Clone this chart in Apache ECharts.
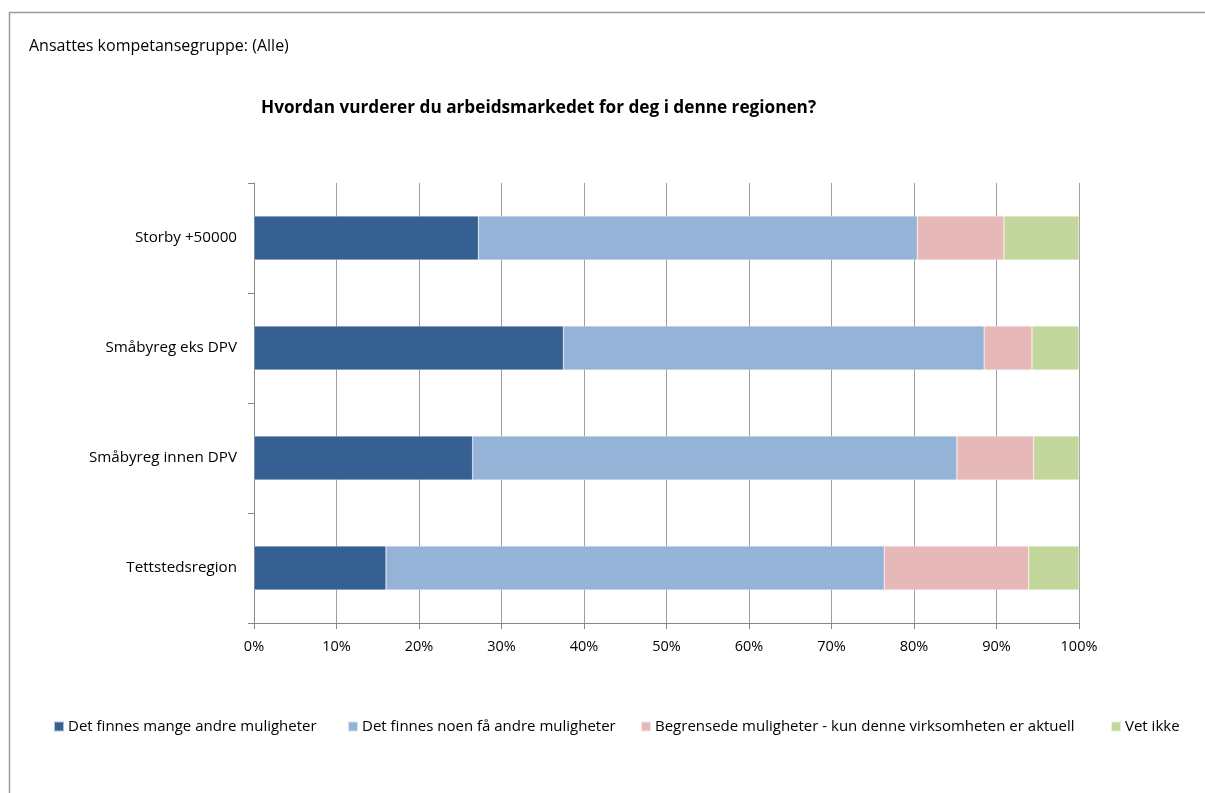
<!DOCTYPE html>
<html>
<head>
<meta charset="utf-8">
<script src="https://cdn.jsdelivr.net/npm/echarts@6/dist/echarts.min.js"></script>
<style>
  html, body { margin: 0; padding: 0; background: #fff; }
  #chart { width: 1205px; height: 793px; }
</style>
</head>
<body>
<div id="chart"></div>
<script>
// Regions, top to bottom
const categories = ['Storby +50000', 'Småbyreg eks DPV', 'Småbyreg innen DPV', 'Tettstedsregion'];

// Share of respondents (%) per answer
const mangeMuligheter = [27.2, 37.5, 26.5, 16.0];
const faaMuligheter   = [53.2, 51.0, 58.7, 60.4];
const begrensede      = [10.5,  5.8,  9.3, 17.5];
const vetIkke         = [ 9.1,  5.7,  5.5,  6.1];

const seriesNames = [
  'Det finnes mange andre muligheter',
  'Det finnes noen få andre muligheter',
  'Begrensede muligheter - kun denne virksomheten er aktuell',
  'Vet ikke'
];
const seriesData = [mangeMuligheter, faaMuligheter, begrensede, vetIkke];
const colors = ['#376092', '#95b3d7', '#e6b9b8', '#c3d69b'];

const FONT = 'Open Sans';
const chart = echarts.init(document.getElementById('chart'), null, { renderer: 'canvas' });

const legendLefts = [48, 342, 635, 1105];

chart.setOption({
  backgroundColor: '#ffffff',
  animation: false,
  textStyle: { fontFamily: FONT, color: '#000' },
  title: [
    {
      text: 'Ansattes kompetansegruppe: (Alle)',
      left: 24, top: 33,
      textStyle: { fontSize: 16, fontWeight: 'normal', fontFamily: FONT, color: '#000' }
    },
    {
      text: 'Hvordan vurderer du arbeidsmarkedet for deg i denne regionen?',
      left: 256, top: 95,
      textStyle: { fontSize: 17.2, fontWeight: 'bold', fontFamily: FONT, color: '#000' }
    }
  ],
  legend: seriesNames.map((name, i) => ({
    data: [name],
    left: legendLefts[i], top: 714,
    itemWidth: 10, itemHeight: 10, itemGap: 0,
    icon: 'rect',
    textStyle: { fontSize: 15, fontFamily: FONT, color: '#000', padding: [0, 0, 0, -1] },
    selectedMode: false
  })),
  grid: { left: 254, right: 126, top: 183, bottom: 170, containLabel: false },
  xAxis: {
    type: 'value',
    min: 0, max: 100, interval: 10,
    axisLine: { show: true, lineStyle: { color: '#868686', width: 1 } },
    axisTick: { show: true, length: 6, lineStyle: { color: '#868686' } },
    axisLabel: { formatter: '{value}%', fontSize: 14.5, fontFamily: FONT, color: '#000', margin: 16 },
    splitLine: { show: true, lineStyle: { color: '#a0a0a0', width: 1 } }
  },
  yAxis: {
    type: 'category',
    data: categories,
    inverse: true,
    axisLine: { show: true, lineStyle: { color: '#868686', width: 1 } },
    axisTick: { show: true, length: 6, lineStyle: { color: '#868686' } },
    axisLabel: { fontSize: 15.2, fontFamily: FONT, color: '#000', margin: 17 }
  },
  series: seriesNames.map((name, i) => ({
    name: name,
    type: 'bar',
    stack: 'total',
    barCategoryGap: '60%',
    data: seriesData[i],
    itemStyle: { color: colors[i], borderColor: 'rgba(255,255,255,0.6)', borderWidth: 0.5 }
  })),
  graphic: [
    { type: 'line', shape: { x1: 9.5, y1: 12, x2: 9.5, y2: 793 }, style: { stroke: '#9c9c9c', lineWidth: 1.5 } },
    { type: 'line', shape: { x1: 9, y1: 12.5, x2: 1205, y2: 12.5 }, style: { stroke: '#9c9c9c', lineWidth: 1.5 } }
  ]
});
</script>
</body>
</html>
